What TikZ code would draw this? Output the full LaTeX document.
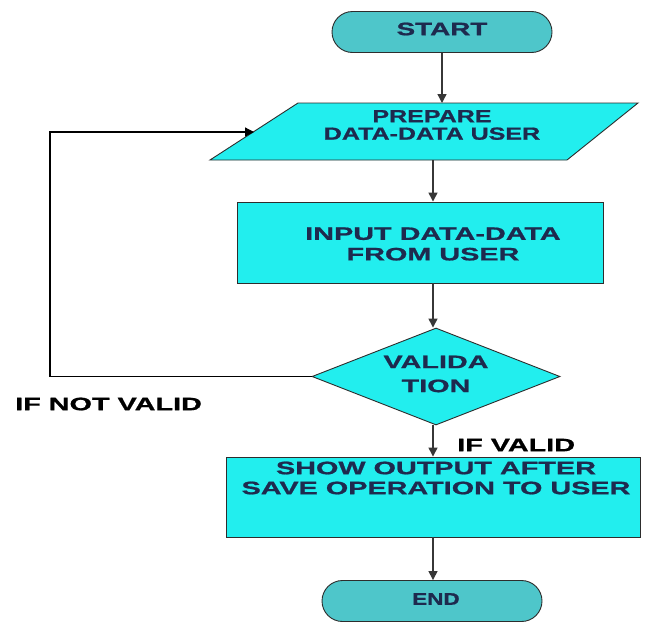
\documentclass[tikz,border=0pt]{standalone}
\usepackage{fontspec}
\setmainfont{Liberation Sans}
\newfontfamily\fwide[FakeStretch=1.6,FakeBold=1]{Liberation Sans}
\newfontfamily\fstart[FakeStretch=1.55,FakeBold=1]{Liberation Sans}
\newfontfamily\fmid[FakeStretch=1.43,FakeBold=1]{Liberation Sans}
\newfontfamily\fnarrow[FakeStretch=1.32,FakeBold=1]{Liberation Sans}
\usetikzlibrary{arrows.meta,shapes.geometric,shapes.misc}
\definecolor{cyanfill}{RGB}{34,238,238}
\definecolor{pillfill}{RGB}{78,198,202}
\definecolor{navy}{RGB}{30,42,78}
\definecolor{edge}{RGB}{45,45,45}
\definecolor{wire}{RGB}{55,55,55}
\tikzset{
  box/.style={draw=edge, line width=0.9pt, fill=cyanfill, rectangle, inner sep=0pt},
  pill/.style={draw=edge, line width=0.9pt, fill=pillfill, rounded rectangle, inner sep=0pt,
               minimum width=220pt, minimum height=41pt},
  dia/.style={draw=edge, line width=0.9pt, fill=cyanfill, diamond, inner sep=0pt},
  txt/.style={text=navy, inner sep=0pt, align=center},
  lbl/.style={text=black, inner sep=0pt, anchor=west, font=\fwide\bfseries\fontsize{18}{20}\selectfont},
  arr/.style={draw=wire, line width=1.4pt, -{Triangle[length=9pt,width=9pt]}},
}
\begin{document}
\begin{tikzpicture}[x=1pt,y=-1pt]
\useasboundingbox (0,0) rectangle (645,624);
\fill[white] (0,0) rectangle (645,624);
\coordinate (spine) at (433,0);
% START
\node[pill] (start) at (442,32) {};
\node[txt, font=\fstart\bfseries\fontsize{18}{20}\selectfont] (starttxt) at (442,29) {START};
% PREPARE parallelogram
\coordinate (p1) at (298,103);
\coordinate (p2) at (638,103);
\coordinate (p3) at (567,160);
\coordinate (p4) at (210,160);
\coordinate (prepleft) at (254,132);
\filldraw[draw=edge, line width=0.9pt, fill=cyanfill] (p1) -- (p2) -- (p3) -- (p4) -- cycle;
\node[txt, font=\fmid\bfseries\fontsize{17.5}{17.5}\selectfont] (prep) at (432,125) {PREPARE\\DATA-DATA USER};
% INPUT box
\node[box, minimum width=366pt, minimum height=81pt] (input) at (420,242.5) {};
\node[txt, font=\fwide\bfseries\fontsize{18}{20.5}\selectfont] (inputtxt) at (433,244) {INPUT DATA-DATA\\FROM USER};
% VALIDATION diamond
\node[dia, minimum width=248pt, minimum height=97pt] (valid) at (436,376.5) {};
\node[txt, font=\fwide\bfseries\fontsize{18}{24}\selectfont] (validtxt) at (436,374) {VALIDA\\TION};
% SHOW box
\node[box, minimum width=414pt, minimum height=80pt] (show) at (433,497) {};
\node[txt, font=\fwide\bfseries\fontsize{18}{20}\selectfont] (showtxt) at (436,478) {SHOW OUTPUT AFTER\\SAVE OPERATION TO USER};
% END
\node[pill] (end) at (432,601) {};
\node[txt, font=\fnarrow\bfseries\fontsize{17}{20}\selectfont] (endtxt) at (436,599) {END};
% labels
\node[lbl] (notvalid) at (15,404) {IF NOT VALID};
\node[lbl] (isvalid) at (457,445) {IF VALID};
% connectors
\coordinate (loop) at (50,132);
\draw[arr] (start.south) -- (start.south |- p1);
\draw[arr] (spine |- p4) -- (spine |- input.north);
\draw[arr] (spine |- input.south) -- (spine |- valid.north);
\draw[arr, draw=black, line width=1.2pt] (valid.west) -- (valid.west -| loop) -- (loop) -- (prepleft);
\draw[arr] (spine |- valid.south) -- (spine |- show.north);
\draw[arr] (spine |- show.south) -- (spine |- end.north);
\end{tikzpicture}
\end{document}
